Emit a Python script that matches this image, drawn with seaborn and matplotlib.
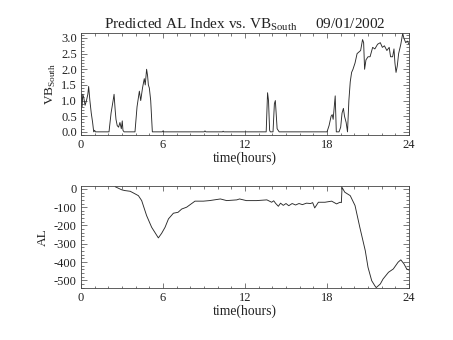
import matplotlib
matplotlib.use("Agg")
import matplotlib.pyplot as plt
from matplotlib.ticker import MultipleLocator, FormatStrFormatter
import seaborn as sns
import pandas as pd

# Solar-wind driver VB_South (mV/m) against UT hours
vb_hours = [0.0, 0.03, 0.08, 0.13, 0.2, 0.3, 0.4, 0.5, 0.56, 0.65, 0.75, 0.85, 0.93, 1.0, 1.05, 1.1,
            2.05, 2.2, 2.35, 2.42, 2.5, 2.56, 2.65, 2.75, 2.85, 2.95, 3.02, 3.07, 3.15,
            3.95, 4.1, 4.27, 4.37, 4.5, 4.63, 4.7, 4.8, 4.87, 4.93, 5.0, 5.1, 5.22,
            5.95, 6.0, 6.05, 9.0, 9.07, 9.14, 10.35, 10.4, 10.45,
            13.55, 13.65, 13.72, 13.8, 13.85, 14.05, 14.15, 14.22, 14.35, 14.5,
            18.0, 18.15, 18.3, 18.38, 18.45, 18.6, 18.68, 18.75, 18.88, 19.0,
            19.1, 19.2, 19.28, 19.4, 19.5, 19.6, 19.7, 19.8, 19.9, 20.05,
            20.2, 20.33, 20.46, 20.6, 20.68, 20.75, 20.85, 21.0, 21.15, 21.34,
            21.5, 21.7, 21.9, 22.05, 22.2, 22.38, 22.55, 22.65, 22.8, 22.9,
            22.97, 23.05, 23.14, 23.24, 23.4, 23.54, 23.62, 23.76, 23.88, 24.0]
vb_south = [0.2, 1.2, 0.8, 1.2, 1.1, 0.85, 1.0, 1.2, 1.45, 1.0, 0.6, 0.3, 0.0, 0.05, 0.0, 0.0,
            0.0, 0.6, 1.0, 1.2, 0.7, 0.4, 0.2, 0.15, 0.3, 0.1, 0.35, 0.05, 0.0,
            0.0, 0.8, 1.3, 1.0, 1.4, 1.7, 1.5, 2.0, 1.8, 1.5, 1.4, 1.0, 0.0,
            0.0, 0.03, 0.0, 0.0, 0.03, 0.0, 0.0, 0.02, 0.0,
            0.0, 1.25, 1.0, 0.05, 0.0, 0.0, 0.9, 1.0, 0.1, 0.0,
            0.0, 0.2, 0.5, 0.55, 0.4, 1.15, 0.0, 0.0, 0.0, 0.15,
            0.6, 0.75, 0.5, 0.3, 0.0, 1.0, 1.6, 1.9, 2.0, 2.2,
            2.5, 2.55, 2.6, 2.95, 2.85, 2.0, 2.3, 2.4, 2.4, 2.7,
            2.65, 2.8, 2.85, 2.7, 2.75, 2.6, 2.7, 2.4, 2.4, 2.65,
            2.2, 1.9, 2.1, 2.5, 2.8, 3.15, 3.0, 2.85, 2.9, 2.8]

# Predicted AL index (nT) against UT hours
al_hours = [2.5, 2.98, 3.2, 3.6, 3.83, 4.2, 4.44, 4.8, 5.17, 5.66,
            5.9, 6.15, 6.4, 6.76, 7.1, 7.37, 7.73, 8.34, 8.95, 9.4,
            10.2, 10.66, 11.4, 11.6, 12.1, 12.85, 13.6, 13.95, 14.1, 14.25,
            14.44, 14.6, 14.8, 15.0, 15.2, 15.45, 15.7, 15.95, 16.2, 16.5,
            16.8, 16.95, 17.1, 17.37, 17.85, 18.34, 18.7, 18.95, 19.05, 19.1,
            19.3, 19.7, 20.05, 20.4, 20.8, 21.0, 21.27, 21.5, 21.6, 21.9,
            22.1, 22.5, 22.85, 23.2, 23.4, 23.63, 23.83, 24.0]
al_index = [12, -5, -9, -13, -22, -37, -64, -146, -210, -268,
            -243, -210, -164, -133, -128, -110, -100, -67, -67, -64,
            -55, -64, -60, -55, -64, -64, -60, -73, -65, -80,
            -95, -78, -90, -80, -92, -80, -88, -80, -86, -78,
            -80, -75, -104, -73, -73, -67, -82, -73, -75, 8,
            -18, -37, -91, -210, -338, -429, -502, -530, -540, -520,
            -493, -456, -438, -401, -388, -410, -438, -444]

hour_ticks = [0, 6, 12, 18, 24]
title_text = "Predicted AL Index vs. VB$_{\\rm South}$     09/01/2002"

sns.set_theme(style="ticks")
plt.rcParams["font.family"] = ["Liberation Serif", "DejaVu Serif"]
plt.rcParams["mathtext.fontset"] = "custom"
plt.rcParams["mathtext.rm"] = "Liberation Serif"
plt.rcParams["axes.unicode_minus"] = False

fig = plt.figure(figsize=(4.53, 3.40), dpi=100)
fig.patch.set_facecolor("white")
ax1 = fig.add_axes([0.1788, 0.603, 0.7241, 0.300])
ax2 = fig.add_axes([0.1788, 0.153, 0.7241, 0.300])

vb_df = pd.DataFrame({"hours": vb_hours, "vb": vb_south})
al_df = pd.DataFrame({"hours": al_hours, "al": al_index})

sns.lineplot(data=vb_df, x="hours", y="vb", ax=ax1, color="#2a2a2a", lw=0.65, sort=False)
sns.lineplot(data=al_df, x="hours", y="al", ax=ax2, color="#2a2a2a", lw=0.65, sort=False)


def style_axis(ax, ymajor, yminor):
    ax.set_facecolor("white")
    ax.set_xlim(0, 24)
    ax.set_xticks(hour_ticks)
    ax.xaxis.set_minor_locator(MultipleLocator(1))
    ax.yaxis.set_major_locator(MultipleLocator(ymajor))
    ax.yaxis.set_minor_locator(MultipleLocator(yminor))
    for s in ax.spines.values():
        s.set_visible(True)
        s.set_linewidth(0.6)
        s.set_color("#444444")
    ax.tick_params(which="both", direction="in", top=True, right=True,
                   width=0.5, color="#444444", labelsize=9, pad=3,
                   labelcolor="#222222")
    ax.tick_params(axis="y", which="major", length=4.5)
    ax.tick_params(axis="y", which="minor", length=2.5)
    ax.tick_params(axis="x", which="major", length=3.5)
    ax.tick_params(axis="x", which="minor", length=1.8)
    ax.set_xlabel("time(hours)", fontsize=9.8, labelpad=0.5, color="#222222")
    ax.grid(False)


style_axis(ax1, 0.5, 0.1)
ax1.set_ylim(-0.1, 3.16)
ax1.yaxis.set_major_formatter(FormatStrFormatter("%.1f"))
ax1.set_ylabel("VB$_{\\rm South}$", fontsize=9.5, labelpad=2, color="#222222")
ax1.set_title(title_text, fontsize=11, pad=3, color="#222222")

style_axis(ax2, 100, 20)
ax2.set_ylim(-542, 16)
ax2.set_ylabel("AL", fontsize=9.5, labelpad=4, color="#222222")

fig.savefig("out.png", dpi=100, facecolor="white")
